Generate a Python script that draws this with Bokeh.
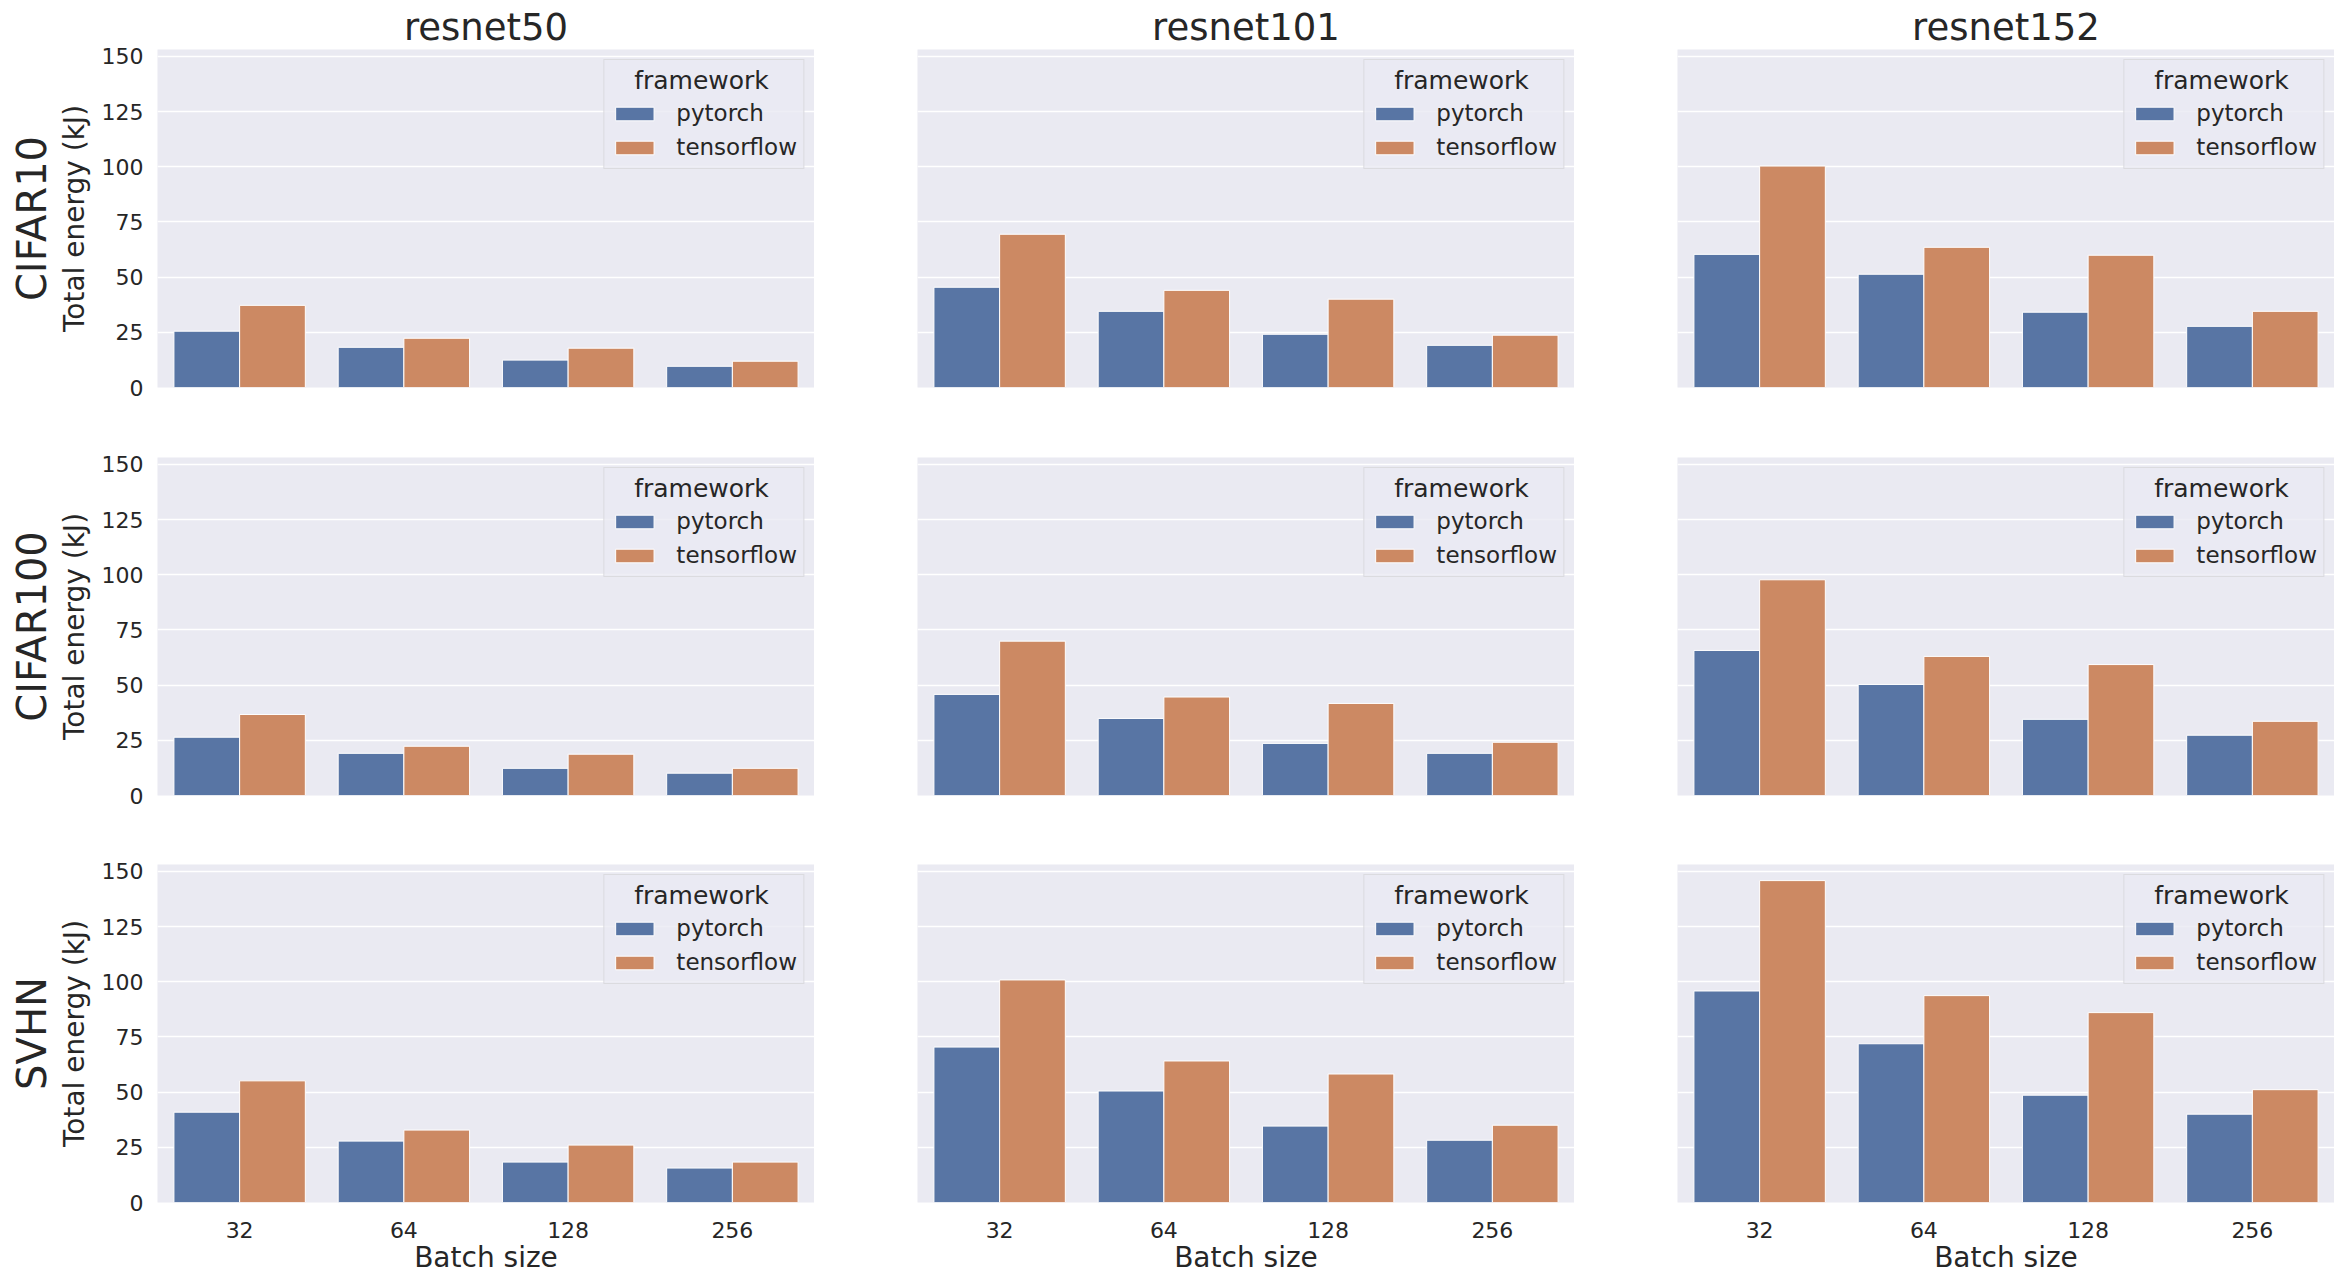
from bokeh.plotting import figure
from bokeh.models import FactorRange, Range1d, FixedTicker, Title, ColumnDataSource
from bokeh.transform import dodge
from bokeh.layouts import gridplot
from bokeh.embed import file_html
from bokeh.resources import INLINE

# ---------------- data ----------------
batch_sizes = ["32", "64", "128", "256"]
models = ["resnet50", "resnet101", "resnet152"]
datasets = ["CIFAR10", "CIFAR100", "SVHN"]
frameworks = ["pytorch", "tensorflow"]
legend_title = "framework"

cifar10_resnet50_pytorch = [25.5, 18.2, 12.4, 9.6]
cifar10_resnet50_tensorflow = [37.2, 22.3, 17.8, 11.9]
cifar10_resnet101_pytorch = [45.4, 34.5, 24.1, 19.1]
cifar10_resnet101_tensorflow = [69.4, 44.0, 40.0, 23.7]
cifar10_resnet152_pytorch = [60.3, 51.3, 34.1, 27.7]
cifar10_resnet152_tensorflow = [100.3, 63.5, 59.9, 34.5]

cifar100_resnet50_pytorch = [26.4, 19.1, 12.3, 10.1]
cifar100_resnet50_tensorflow = [36.7, 22.3, 18.7, 12.3]
cifar100_resnet101_pytorch = [45.8, 34.9, 23.6, 19.1]
cifar100_resnet101_tensorflow = [69.9, 44.6, 41.7, 24.1]
cifar100_resnet152_pytorch = [65.7, 50.3, 34.5, 27.3]
cifar100_resnet152_tensorflow = [97.7, 63.0, 59.3, 33.6]

svhn_resnet50_pytorch = [40.9, 27.8, 18.3, 15.6]
svhn_resnet50_tensorflow = [55.1, 32.8, 26.0, 18.3]
svhn_resnet101_pytorch = [70.4, 50.5, 34.6, 28.2]
svhn_resnet101_tensorflow = [100.8, 64.1, 58.2, 35.0]
svhn_resnet152_pytorch = [95.8, 71.9, 48.6, 40.0]
svhn_resnet152_tensorflow = [145.8, 93.7, 86.0, 51.1]

y_ticks = [0, 25, 50, 75, 100, 125, 150]

table = {
    ("CIFAR10", "resnet50"): (cifar10_resnet50_pytorch, cifar10_resnet50_tensorflow),
    ("CIFAR10", "resnet101"): (cifar10_resnet101_pytorch, cifar10_resnet101_tensorflow),
    ("CIFAR10", "resnet152"): (cifar10_resnet152_pytorch, cifar10_resnet152_tensorflow),
    ("CIFAR100", "resnet50"): (cifar100_resnet50_pytorch, cifar100_resnet50_tensorflow),
    ("CIFAR100", "resnet101"): (cifar100_resnet101_pytorch, cifar100_resnet101_tensorflow),
    ("CIFAR100", "resnet152"): (cifar100_resnet152_pytorch, cifar100_resnet152_tensorflow),
    ("SVHN", "resnet50"): (svhn_resnet50_pytorch, svhn_resnet50_tensorflow),
    ("SVHN", "resnet101"): (svhn_resnet101_pytorch, svhn_resnet101_tensorflow),
    ("SVHN", "resnet152"): (svhn_resnet152_pytorch, svhn_resnet152_tensorflow),
}

# ---------------- style ----------------
FONT = "DejaVu Sans"
TXT = "#262626"
BG = "#EAEAF2"
COLORS = {"pytorch": "#5875A4", "tensorflow": "#CC8963"}
OFFSETS = {"pytorch": -0.2, "tensorflow": 0.2}

FRAME_W = 657
FRAME_H = 338
LEFT_FIRST = 157
LEFT_OTHER = 103
TOPS = [49, 56, 55]
BOTTOMS = [14, 14, 80]

rows = []
all_vals = [v for pair in table.values() for s in pair for v in s]
ymax = max(all_vals) * 1.05

for ri, ds in enumerate(datasets):
    row_figs = []
    for ci, model in enumerate(models):
        left = LEFT_FIRST if ci == 0 else LEFT_OTHER
        bottom = BOTTOMS[ri]
        top = TOPS[ri]
        p = figure(
            x_range=FactorRange(*batch_sizes, range_padding=0),
            y_range=Range1d(0, ymax),
            width=left + FRAME_W,
            height=top + FRAME_H + bottom,
            min_border_left=left, min_border_right=0,
            min_border_top=top, min_border_bottom=bottom,
            output_backend="svg", toolbar_location=None,
        )
        p.background_fill_color = BG
        p.border_fill_color = "white"
        p.outline_line_color = None

        pt, tf = table[(ds, model)]
        src = ColumnDataSource(dict(batch=batch_sizes, pytorch=pt, tensorflow=tf))
        for fw in frameworks:
            p.vbar(x=dodge("batch", OFFSETS[fw], range=p.x_range), top=fw, width=0.4,
                   source=src, fill_color=COLORS[fw], line_color="white", line_width=1,
                   legend_label=fw)

        # grids
        p.xgrid.visible = False
        p.ygrid.ticker = FixedTicker(ticks=y_ticks)
        p.ygrid.grid_line_color = "white"
        p.ygrid.grid_line_width = 1.5

        # axes
        p.yaxis.ticker = FixedTicker(ticks=y_ticks)
        for ax in (p.xaxis[0], p.yaxis[0]):
            ax.axis_line_color = None
            ax.major_tick_line_color = None
            ax.minor_tick_line_color = None
            ax.major_tick_out = 0
            ax.major_tick_in = 0
            ax.minor_tick_out = 0
            ax.minor_tick_in = 0
            ax.major_label_text_font = FONT
            ax.major_label_text_font_size = "22px"
            ax.major_label_text_color = TXT
            ax.axis_label_text_font = FONT
            ax.axis_label_text_font_size = "28px"
            ax.axis_label_text_font_style = "normal"
            ax.axis_label_text_color = TXT

        if ci == 0:
            p.yaxis.axis_label = "Total energy (kJ)"
            p.yaxis.major_label_standoff = 14
            p.yaxis.axis_label_standoff = 8
            p.add_layout(Title(text=ds, text_font=FONT, text_font_size="40px",
                               text_font_style="normal", text_color=TXT,
                               align="center", standoff=0), "left")
        else:
            p.yaxis.visible = False

        if ri == 2:
            p.xaxis.axis_label = "Batch size"
            p.xaxis.major_label_standoff = 19
            p.xaxis.axis_label_standoff = 0
        else:
            p.xaxis.visible = False

        if ri == 0:
            p.title.text = model
            p.title.text_font = FONT
            p.title.text_font_size = "37px"
            p.title.text_font_style = "normal"
            p.title.text_color = TXT
            p.title.align = "center"
            p.title.standoff = 2

        lg = p.legend[0]
        lg.location = "top_right"
        lg.margin = 10
        # non-breaking spaces centre the title over the entries
        lg.title = "\u00a0\u00a0\u00a0" + legend_title
        lg.title_text_font = FONT
        lg.title_text_font_size = "25px"
        lg.title_text_font_style = "normal"
        lg.title_text_color = TXT
        lg.title_standoff = 3
        lg.label_text_font = FONT
        lg.label_text_font_size = "23px"
        lg.label_text_color = TXT
        lg.glyph_width = 48
        lg.glyph_height = 17
        lg.label_height = 30
        lg.label_standoff = 18
        lg.spacing = 4
        lg.padding = 6
        lg.background_fill_color = BG
        lg.background_fill_alpha = 0.8
        lg.border_line_color = "#CCCCCC"
        lg.border_line_width = 1

        row_figs.append(p)
    rows.append(row_figs)

grid = gridplot(rows, toolbar_location=None)

html = file_html(grid, INLINE)
open("out.html", "w").write(html)
